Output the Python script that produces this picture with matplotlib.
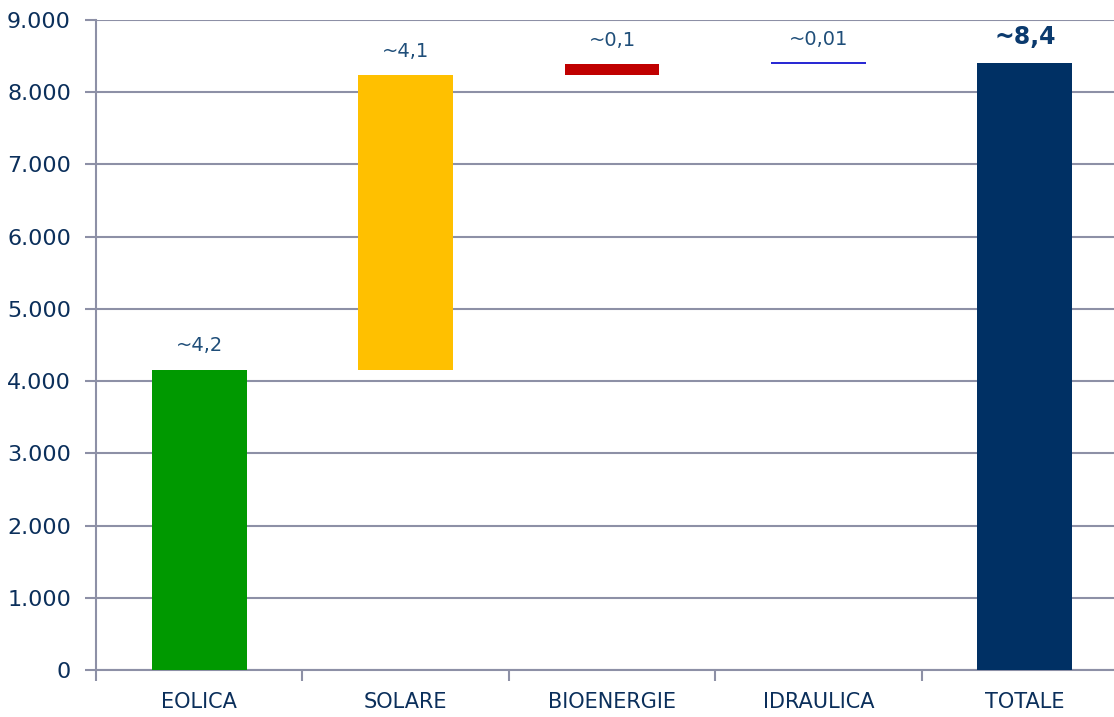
import matplotlib.pyplot as plt
from matplotlib.ticker import FuncFormatter

# data (MW)
categories = ["EOLICA", "SOLARE", "BIOENERGIE", "IDRAULICA", "TOTALE"]
values = [4160, 4080, 150, 10, 8400]
labels = ["~4,2", "~4,1", "~0,1", "~0,01", "~8,4"]
colors = ["#009900", "#ffc000", "#c00000", "#0000cc", "#003064"]

# waterfall bases: each step starts where the previous ends, total starts at 0
bases = []
running = 0
for i, v in enumerate(values):
    if i == len(values) - 1:
        bases.append(0)
    else:
        bases.append(running)
        running += v

navy = "#0b2f5b"
grid_col = "#8d90a6"

fig = plt.figure(figsize=(11.14, 7.17), dpi=100)
ax = fig.add_axes([96 / 1114, 47 / 717, 1032 / 1114, 650 / 717])

x = list(range(len(categories)))
for xi, b, v, c in zip(x, bases, values, colors):
    if v < 50:
        # tiny step drawn as a thin line
        ax.hlines(b + v, xi - 0.23, xi + 0.23, color=c, linewidth=1.2, zorder=3)
    else:
        ax.bar(xi, v, bottom=b, width=0.46, color=c, zorder=3)

for xi, b, v, lab in zip(x, bases, values, labels):
    top = b + v
    if lab == "~8,4":
        ax.annotate(lab, (xi, top), xytext=(0, 19), textcoords="offset points",
                    ha="center", va="center", fontsize=17, fontweight="bold",
                    color="#0b3a6e")
    else:
        ax.annotate(lab, (xi, top), xytext=(0, 17), textcoords="offset points",
                    ha="center", va="center", fontsize=14, color="#1f4e79")

ax.set_xlim(-0.5, 4.5)
ax.set_ylim(0, 9000)
ax.set_yticks(range(0, 9001, 1000))
ax.yaxis.set_major_formatter(FuncFormatter(lambda v, p: f"{int(v):,}".replace(",", ".")))
ax.grid(axis="y", color=grid_col, linewidth=1.5, zorder=0)

ax.set_xticks(x)
ax.set_xticklabels(categories)
ax.set_xticks([i - 0.5 for i in range(len(categories) + 1)], minor=True)
ax.tick_params(axis="x", which="major", length=0, pad=16, labelsize=15, labelcolor=navy)
ax.tick_params(axis="x", which="minor", length=8, width=1.5, color=grid_col)
ax.tick_params(axis="y", length=8, width=1.5, color=grid_col, pad=10,
               labelsize=16, labelcolor=navy)

for s in ["top", "right"]:
    ax.spines[s].set_visible(False)
for s in ["left", "bottom"]:
    ax.spines[s].set_color(grid_col)
    ax.spines[s].set_linewidth(1.5)

fig.savefig("out.png", dpi=100)
